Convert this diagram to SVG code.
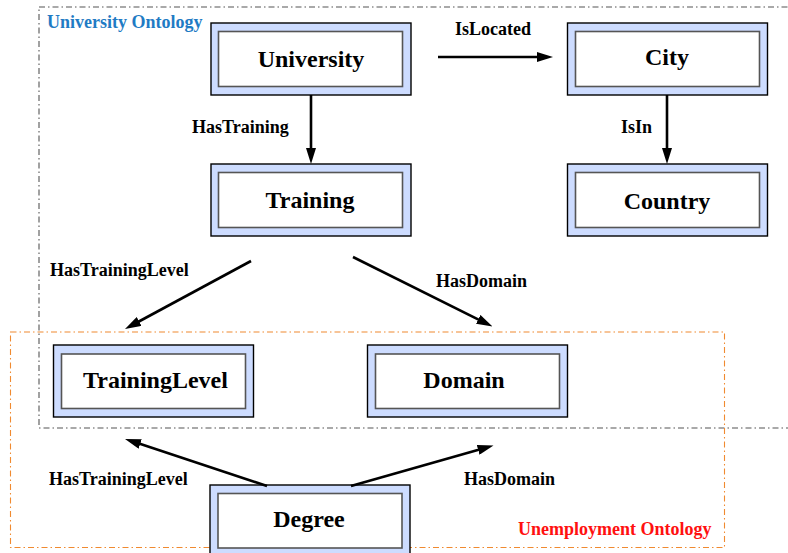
<svg xmlns="http://www.w3.org/2000/svg" width="788" height="553" viewBox="0 0 788 553">
<style>
.outer{fill:#cddcff;stroke:#000;stroke-width:1.4}
.inner{fill:#fff;stroke:#555;stroke-width:1.6}
.nl{font-family:"Liberation Serif",serif;font-weight:bold;font-size:24px;fill:#000;text-anchor:middle}
.el{font-family:"Liberation Serif",serif;font-weight:bold;font-size:18px;fill:#000}
.hd{font-family:"Liberation Serif",serif;font-weight:bold;font-size:18px}
.edge{stroke:#000;stroke-width:2.6;fill:none}
</style>
<defs>
<marker id="ah" markerUnits="userSpaceOnUse" markerWidth="16" markerHeight="10" refX="6" refY="5" orient="auto" viewBox="0 0 16 10">
<path d="M0,0 L16,5 L0,10 z" fill="#000"/>
</marker>
</defs>
<g id="university-ontology">
<rect x="39" y="7" width="760" height="421" fill="none" stroke="#555" stroke-width="1.1" stroke-dasharray="6 3 1.5 3"/>
<text class="hd" x="47" y="28" fill="#1f7bc4">University Ontology</text>
</g>
<g id="unemployment-ontology">
<rect x="10.5" y="332" width="714" height="215.5" fill="none" stroke="#f08a30" stroke-width="1.1" stroke-dasharray="6 3 1.5 3"/>
<text class="hd" x="518" y="535" fill="#ff1010">Unemployment Ontology</text>
</g>
<g id="University">
<rect class="outer" x="211" y="23" width="200" height="72"/>
<rect class="inner" x="218.5" y="31.5" width="184" height="55"/>
<text class="nl" x="311" y="67">University</text>
</g>
<g id="City">
<rect class="outer" x="567.5" y="23" width="200" height="72"/>
<rect class="inner" x="575.5" y="31.5" width="184" height="55"/>
<text class="nl" x="667" y="65">City</text>
</g>
<g id="Training">
<rect class="outer" x="211" y="164" width="200" height="72"/>
<rect class="inner" x="218.5" y="172.5" width="184" height="55"/>
<text class="nl" x="310" y="208">Training</text>
</g>
<g id="Country">
<rect class="outer" x="567.5" y="164" width="200" height="72"/>
<rect class="inner" x="575.5" y="172.5" width="184" height="55"/>
<text class="nl" x="667" y="209">Country</text>
</g>
<g id="TrainingLevel">
<rect class="outer" x="53.5" y="345" width="200" height="72"/>
<rect class="inner" x="61.5" y="354" width="184" height="54.5"/>
<text class="nl" x="155.5" y="388">TrainingLevel</text>
</g>
<g id="Domain">
<rect class="outer" x="367.5" y="345" width="200" height="72"/>
<rect class="inner" x="375.5" y="354" width="184" height="54.5"/>
<text class="nl" x="464" y="388">Domain</text>
</g>
<g id="Degree">
<rect class="outer" x="210" y="485" width="200" height="72"/>
<rect class="inner" x="218" y="493.5" width="184" height="54.5"/>
<text class="nl" x="309" y="527">Degree</text>
</g>
<g id="connectors">
<line class="edge" x1="438" y1="57" x2="543" y2="57" marker-end="url(#ah)"/>
<line class="edge" x1="311" y1="95" x2="311" y2="154" marker-end="url(#ah)"/>
<line class="edge" x1="667" y1="95" x2="667" y2="154" marker-end="url(#ah)"/>
<line class="edge" x1="251" y1="261" x2="133.8" y2="324.25" marker-end="url(#ah)"/>
<line class="edge" x1="353" y1="257" x2="483.55" y2="322.04" marker-end="url(#ah)"/>
<line class="edge" x1="267" y1="486" x2="134.5" y2="442.1" marker-end="url(#ah)"/>
<line class="edge" x1="351" y1="486" x2="483.9" y2="448.2" marker-end="url(#ah)"/>
<text class="el" x="455" y="35">IsLocated</text>
<text class="el" x="192" y="133">HasTraining</text>
<text class="el" x="621" y="133">IsIn</text>
<text class="el" x="50" y="276">HasTrainingLevel</text>
<text class="el" x="436" y="287">HasDomain</text>
<text class="el" x="49" y="485">HasTrainingLevel</text>
<text class="el" x="464" y="485">HasDomain</text>
</g>
</svg>
